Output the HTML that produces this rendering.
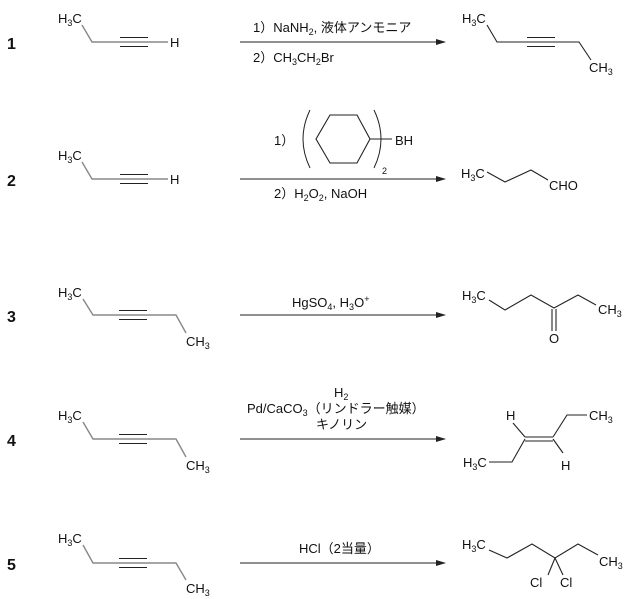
<!DOCTYPE html>
<html><head><meta charset="utf-8"><style>
html,body{margin:0;padding:0;background:#fff;}
svg{display:block;}
text{font-family:"Liberation Sans","Noto Sans CJK JP",sans-serif;font-size:13px;fill:#111;}
.n{font-size:16px;font-weight:bold;}
.s{font-size:9px;}
line,polyline,polygon{stroke:#222;stroke-width:1.1;fill:none;}
.g{stroke:#888;stroke-width:1.4;}
</style></head><body>
<svg width="633" height="599" viewBox="0 0 633 599" xmlns="http://www.w3.org/2000/svg">
<defs><marker id="a" markerWidth="10" markerHeight="6" refX="9" refY="3" orient="auto" markerUnits="userSpaceOnUse"><path d="M0,0 L10,3 L0,6 Z" fill="#222"/></marker></defs>

<text class="n" x="7" y="49">1</text>
<text class="n" x="7" y="186">2</text>
<text class="n" x="7" y="322">3</text>
<text class="n" x="7" y="446">4</text>
<text class="n" x="7" y="570">5</text>

<!-- Row 1 -->
<text x="58" y="23">H<tspan class="s" dy="3">3</tspan><tspan dy="-3">C</tspan></text>
<polyline class="g" points="82,25 92,42 168,42"/>
<line x1="120" y1="37.5" x2="148" y2="37.5"/><line x1="120" y1="46.5" x2="148" y2="46.5"/>
<text x="170" y="47">H</text>
<line x1="240" y1="42" x2="445" y2="42" marker-end="url(#a)"/>
<text x="253" y="32">1）NaNH<tspan class="s" dy="3">2</tspan><tspan dy="-3">,  液体アンモニア</tspan></text>
<text x="253" y="62">2）CH<tspan class="s" dy="3">3</tspan><tspan dy="-3">CH</tspan><tspan class="s" dy="3">2</tspan><tspan dy="-3">Br</tspan></text>
<text x="462" y="23">H<tspan class="s" dy="3">3</tspan><tspan dy="-3">C</tspan></text>
<polyline points="487,25 497,42 579,42 591,60"/>
<line x1="527" y1="37.5" x2="555" y2="37.5"/><line x1="527" y1="46.5" x2="555" y2="46.5"/>
<text x="589" y="72">CH<tspan class="s" dy="3">3</tspan></text>

<!-- Row 2 -->
<text x="58" y="160">H<tspan class="s" dy="3">3</tspan><tspan dy="-3">C</tspan></text>
<polyline class="g" points="82,162 92,179 168,179"/>
<line x1="120" y1="174.5" x2="148" y2="174.5"/><line x1="120" y1="183.5" x2="148" y2="183.5"/>
<text x="170" y="184">H</text>
<line x1="240" y1="179" x2="445" y2="179" marker-end="url(#a)"/>
<text x="274" y="145">1）</text>
<path d="M310,110 Q296,139 310,168" stroke="#222" stroke-width="1" fill="none"/>
<path d="M374,110 Q388,139 374,168" stroke="#222" stroke-width="1" fill="none"/>
<polygon points="316,139 330,115 357,115 370,139 357,163 330,163"/>
<line x1="370" y1="139" x2="392" y2="139"/>
<text x="395" y="145">BH</text>
<text class="s" x="382" y="174">2</text>
<text x="274" y="198">2）H<tspan class="s" dy="3">2</tspan><tspan dy="-3">O</tspan><tspan class="s" dy="3">2</tspan><tspan dy="-3">,  NaOH</tspan></text>
<text x="461" y="178">H<tspan class="s" dy="3">3</tspan><tspan dy="-3">C</tspan></text>
<polyline points="487,172 505,182 531,170 548,180"/>
<text x="549" y="190">CHO</text>

<!-- Row 3 -->
<text x="58" y="297">H<tspan class="s" dy="3">3</tspan><tspan dy="-3">C</tspan></text>
<polyline class="g" points="83,299 93,315 176,315 186,333"/>
<line x1="119" y1="310.5" x2="147" y2="310.5"/><line x1="119" y1="319.5" x2="147" y2="319.5"/>
<text x="186" y="346">CH<tspan class="s" dy="3">3</tspan></text>
<line x1="240" y1="315" x2="445" y2="315" marker-end="url(#a)"/>
<text x="292" y="307">HgSO<tspan class="s" dy="3">4</tspan><tspan dy="-3">,  H</tspan><tspan class="s" dy="3">3</tspan><tspan dy="-3">O</tspan><tspan class="s" dy="-5">+</tspan></text>
<text x="462" y="300">H<tspan class="s" dy="3">3</tspan><tspan dy="-3">C</tspan></text>
<polyline points="489,300 505,310 531,295 554,308 578,295 596,305"/>
<line x1="552" y1="309" x2="552" y2="331"/><line x1="556" y1="309" x2="556" y2="331"/>
<text x="549" y="343">O</text>
<text x="598" y="314">CH<tspan class="s" dy="3">3</tspan></text>

<!-- Row 4 -->
<text x="58" y="420">H<tspan class="s" dy="3">3</tspan><tspan dy="-3">C</tspan></text>
<polyline class="g" points="83,422 93,439 176,439 186,457"/>
<line x1="119" y1="434.5" x2="147" y2="434.5"/><line x1="119" y1="443.5" x2="147" y2="443.5"/>
<text x="186" y="470">CH<tspan class="s" dy="3">3</tspan></text>
<line x1="240" y1="439" x2="445" y2="439" marker-end="url(#a)"/>
<text x="334" y="397">H<tspan class="s" dy="3">2</tspan></text>
<text x="247" y="413">Pd/CaCO<tspan class="s" dy="3">3</tspan><tspan dy="-3">（リンドラー触媒）</tspan></text>
<text x="316" y="429">キノリン</text>
<text x="506" y="420">H</text>
<line x1="513" y1="423" x2="525" y2="437"/>
<line x1="525" y1="437" x2="553" y2="437"/><line x1="525" y1="441" x2="553" y2="441"/>
<polyline points="553,437 567,415 587,415"/>
<text x="589" y="420">CH<tspan class="s" dy="3">3</tspan></text>
<polyline points="525,439 512,462 489,462"/>
<text x="463" y="467">H<tspan class="s" dy="3">3</tspan><tspan dy="-3">C</tspan></text>
<line x1="553" y1="439" x2="563" y2="453"/>
<text x="561" y="470">H</text>

<!-- Row 5 -->
<text x="58" y="543">H<tspan class="s" dy="3">3</tspan><tspan dy="-3">C</tspan></text>
<polyline class="g" points="83,545 93,563 176,563 186,580"/>
<line x1="119" y1="558.5" x2="147" y2="558.5"/><line x1="119" y1="567.5" x2="147" y2="567.5"/>
<text x="186" y="593">CH<tspan class="s" dy="3">3</tspan></text>
<line x1="240" y1="563" x2="445" y2="563" marker-end="url(#a)"/>
<text x="299" y="553">HCl（2当量）</text>
<text x="462" y="549">H<tspan class="s" dy="3">3</tspan><tspan dy="-3">C</tspan></text>
<polyline points="489,550 507,558 532,544 555,558 578,544 598,555"/>
<line x1="555" y1="558" x2="548" y2="575"/><line x1="555" y1="558" x2="563" y2="575"/>
<text x="530" y="587">Cl</text>
<text x="560" y="587">Cl</text>
<text x="599" y="566">CH<tspan class="s" dy="3">3</tspan></text>
</svg>
</body></html>
